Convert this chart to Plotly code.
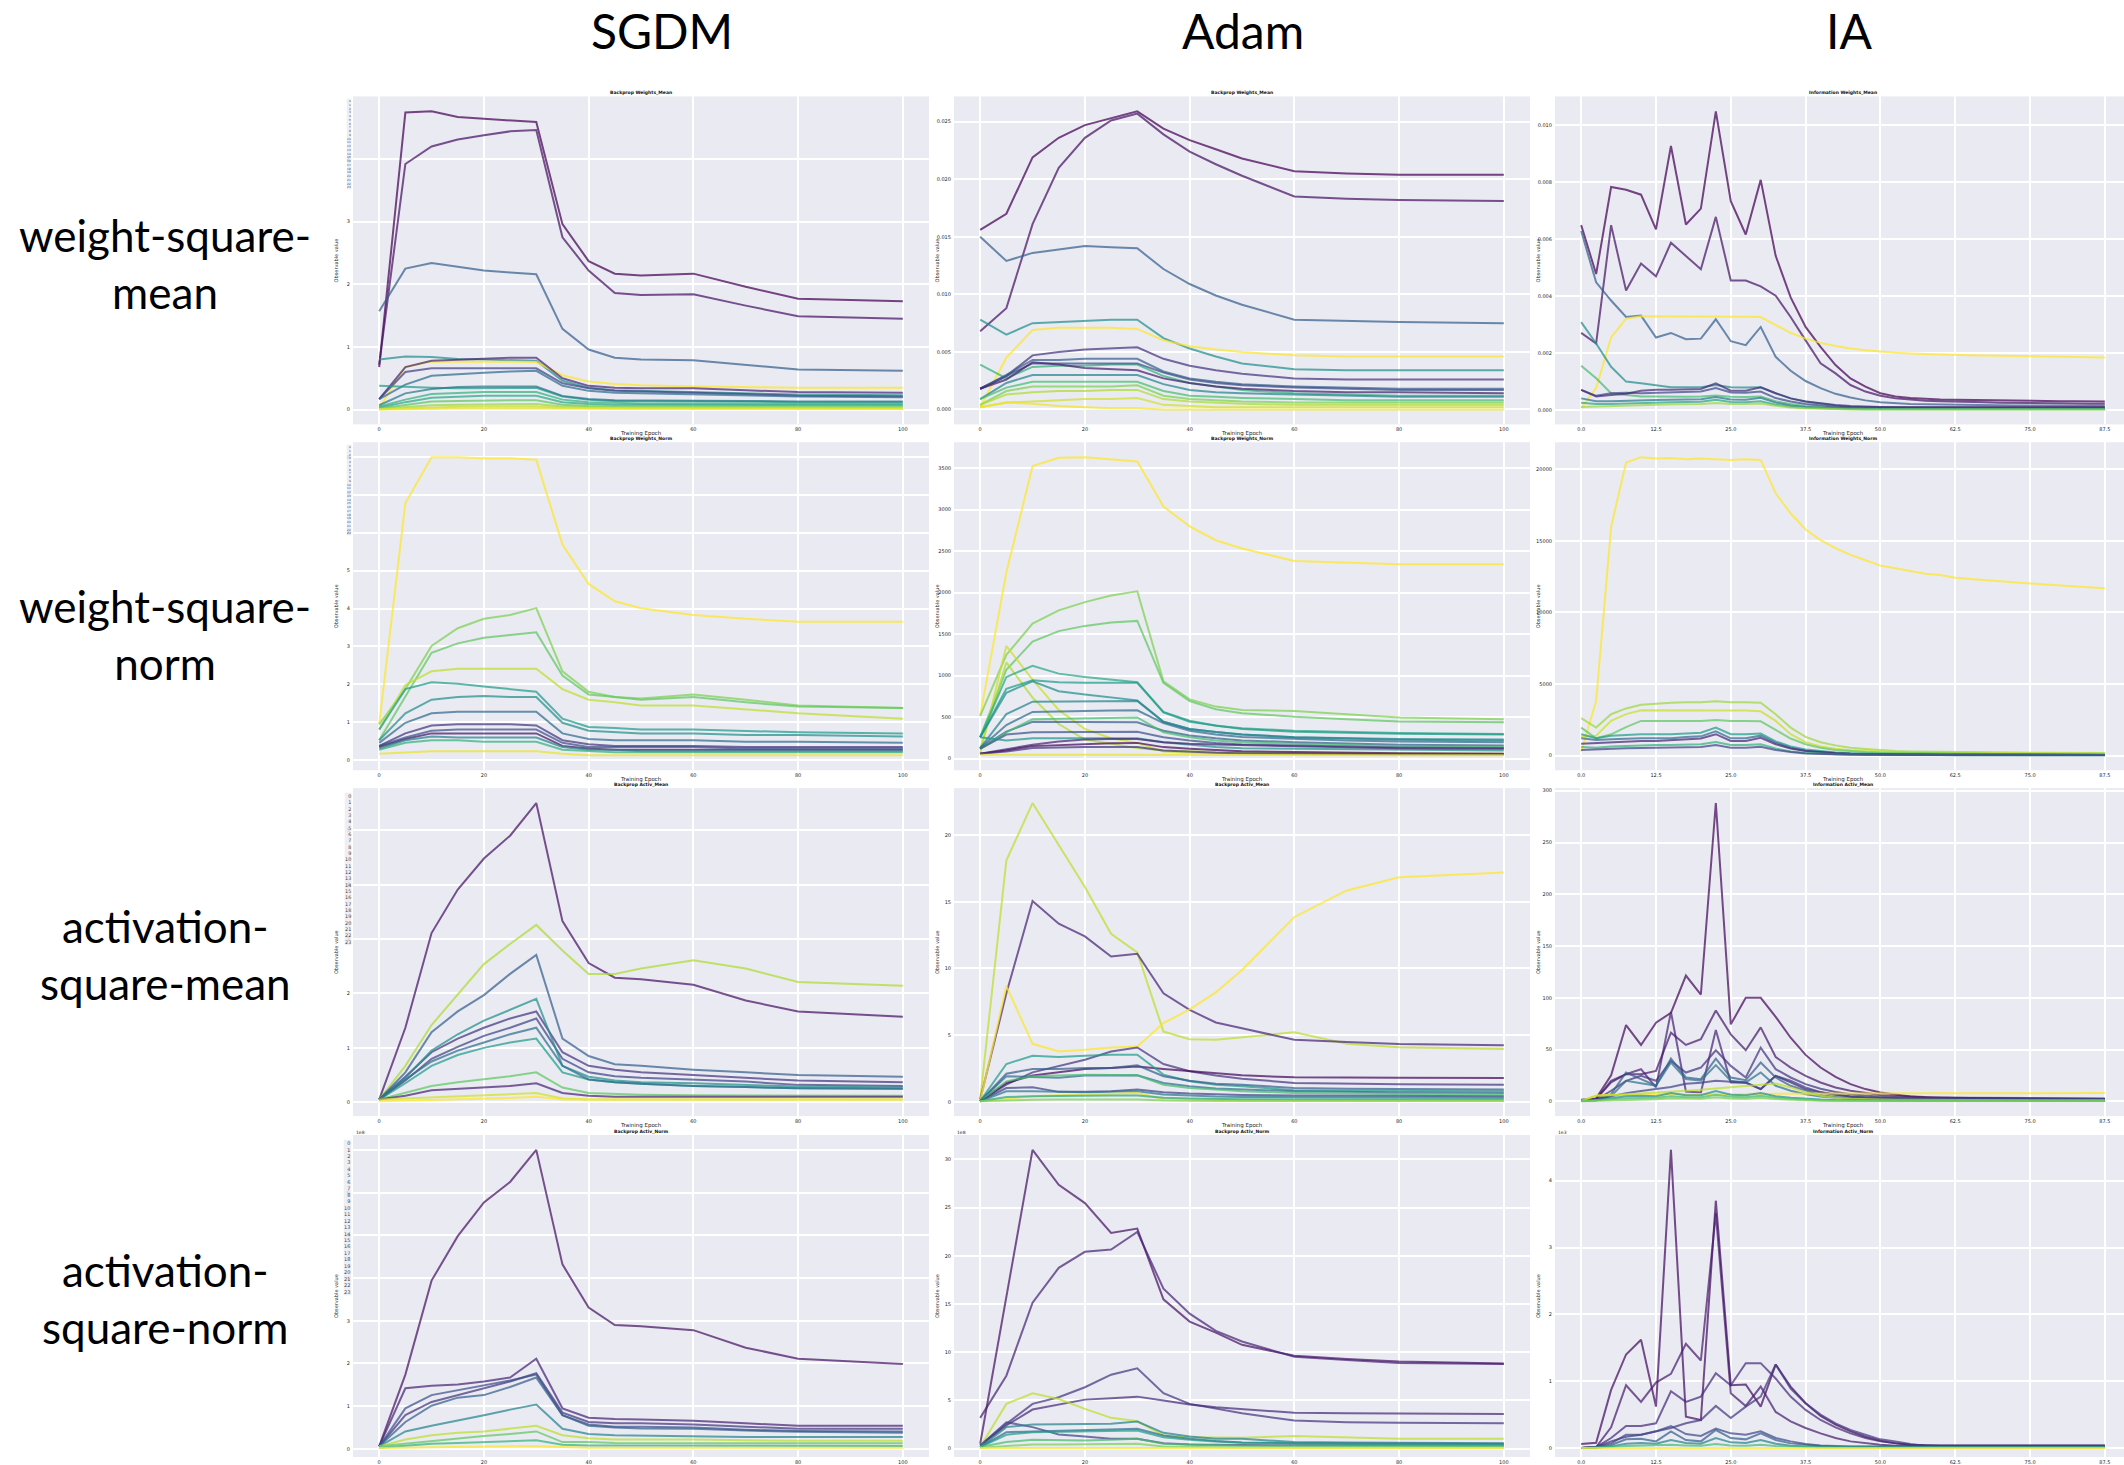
import plotly.graph_objects as go
from plotly.colors import sample_colorscale, unlabel_rgb

PAGE_W, PAGE_H = 2124, 1465

# ---- grid of small panels (pixel geometry of each plotting area) ----
COL_LEFT = [353, 954, 1555]
ROW_TOP = [96, 444, 792, 1141]
PANEL_W, PANEL_H = 576, 330

OPTIMIZERS = ["SGDM", "Adam", "IA"]
OPTIMIZER_X = [662, 1243, 1849]
OBSERVABLES = ["weight-square-<br>mean", "weight-square-<br>norm",
               "activation-<br>square-mean", "activation-<br>square-norm"]
OBSERVABLE_Y = [264, 637, 959, 1306]

PANEL_TITLES = [
    ["Backprop Weights_Mean", "Backprop Weights_Mean", "Information Weights_Mean"],
    ["Backprop Weights_Norm", "Backprop Weights_Norm", "Information Weights_Norm"],
    ["Backprop Activ_Mean", "Backprop Activ_Mean", "Information Activ_Mean"],
    ["Backprop Activ_Norm", "Backprop Activ_Norm", "Information Activ_Norm"],
]
OFFSET_TEXT = ["1e8", "1e8", "1e3"]

# layer-index key squeezed against the left edge of the SGDM panels
LAYER_IDS = ["0", "1", "2", "3", "4", "5", "6", "7", "8", "9", "10", "11",
             "12", "13", "14", "15", "16", "17", "18", "19", "20", "21", "22", "23"]
KEY_SPAN = [(98, 188), (446, 536), (796, 948), (1145, 1300)]

EPOCHS = [0, 5, 10, 15, 20, 25, 30, 35, 40, 45, 50, 60, 70, 80, 100]
EPOCH_TICKS = [0, 20, 40, 60, 80, 100]
IA_EPOCHS = [0.0, 2.5, 5.0, 7.5, 10.0, 12.5, 15.0, 17.5, 20.0, 22.5, 25.0, 27.5,
             30.0, 32.5, 35.0, 37.5, 40.0, 42.5, 45.0, 47.5, 50.0, 52.5, 55.0, 57.5,
             60.0, 62.5, 65.0, 67.5, 70.0, 72.5, 75.0, 77.5, 80.0, 82.5, 85.0, 87.5]
IA_TICKS = [0.0, 12.5, 25.0, 37.5, 50.0, 62.5, 75.0, 87.5]

# Each series: (position on the viridis scale, values per epoch)
SGDM_W_MEAN = [
    (0.00, [0.68, 4.74, 4.76, 4.67, 4.64, 4.62, 4.59, 2.96, 2.37, 2.17, 2.14, 2.17, 1.96, 1.77, 1.73]),
    (0.05, [0.72, 3.92, 4.20, 4.31, 4.38, 4.44, 4.46, 2.75, 2.22, 1.86, 1.83, 1.84, 1.66, 1.49, 1.45]),
    (0.30, [1.57, 2.25, 2.34, 2.28, 2.22, 2.19, 2.16, 1.29, 0.96, 0.83, 0.80, 0.79, 0.71, 0.64, 0.62]),
    (0.50, [0.80, 0.85, 0.84, 0.81, 0.80, 0.79, 0.78, 0.46, 0.35, 0.31, 0.30, 0.29, 0.26, 0.24, 0.23]),
    (1.00, [0.03, 0.68, 0.77, 0.77, 0.77, 0.77, 0.76, 0.55, 0.45, 0.41, 0.39, 0.37, 0.36, 0.35, 0.35]),
    (0.10, [0.17, 0.68, 0.78, 0.80, 0.82, 0.83, 0.83, 0.50, 0.38, 0.35, 0.34, 0.34, 0.31, 0.28, 0.27]),
    (0.20, [0.17, 0.60, 0.66, 0.66, 0.66, 0.67, 0.66, 0.42, 0.34, 0.30, 0.29, 0.28, 0.25, 0.22, 0.21]),
    (0.35, [0.17, 0.40, 0.54, 0.57, 0.59, 0.61, 0.62, 0.38, 0.30, 0.27, 0.26, 0.25, 0.23, 0.21, 0.20]),
    (0.55, [0.38, 0.36, 0.35, 0.34, 0.34, 0.35, 0.35, 0.21, 0.16, 0.14, 0.14, 0.14, 0.13, 0.12, 0.12]),
    (0.40, [0.07, 0.26, 0.33, 0.36, 0.37, 0.37, 0.37, 0.22, 0.17, 0.15, 0.15, 0.15, 0.14, 0.13, 0.13]),
    (0.65, [0.05, 0.16, 0.25, 0.27, 0.28, 0.28, 0.28, 0.16, 0.12, 0.11, 0.10, 0.10, 0.10, 0.09, 0.09]),
    (0.60, [0.03, 0.12, 0.19, 0.21, 0.22, 0.22, 0.22, 0.12, 0.09, 0.08, 0.08, 0.08, 0.07, 0.07, 0.07]),
    (0.75, [0.02, 0.08, 0.13, 0.14, 0.15, 0.15, 0.15, 0.08, 0.06, 0.05, 0.05, 0.05, 0.05, 0.05, 0.05]),
    (0.85, [0.01, 0.04, 0.07, 0.08, 0.08, 0.09, 0.09, 0.05, 0.04, 0.035, 0.035, 0.035, 0.03, 0.03, 0.03]),
    (0.92, [0.005, 0.02, 0.04, 0.045, 0.05, 0.05, 0.05, 0.03, 0.02, 0.02, 0.02, 0.02, 0.02, 0.02, 0.02]),
    (0.97, [0.003, 0.01, 0.02, 0.02, 0.02, 0.02, 0.02, 0.01, 0.01, 0.01, 0.01, 0.01, 0.01, 0.01, 0.01]),
]

ADAM_W_MEAN = [
    (0.00, [0.0156, 0.0170, 0.0219, 0.0236, 0.0247, 0.0253, 0.0259, 0.0244, 0.0234, 0.0226, 0.0218, 0.0207, 0.0205, 0.0204, 0.0204]),
    (0.05, [0.0068, 0.0088, 0.0161, 0.0210, 0.0236, 0.0251, 0.0257, 0.0239, 0.0224, 0.0213, 0.0203, 0.0185, 0.0183, 0.0182, 0.0181]),
    (0.30, [0.0150, 0.0129, 0.0136, 0.0139, 0.0142, 0.0141, 0.0140, 0.0122, 0.0109, 0.0099, 0.0091, 0.0078, 0.0077, 0.0076, 0.0075]),
    (0.50, [0.0078, 0.0065, 0.0075, 0.0076, 0.0077, 0.0078, 0.0078, 0.0062, 0.0053, 0.0046, 0.0040, 0.0035, 0.0034, 0.0034, 0.0034]),
    (1.00, [0.0002, 0.0045, 0.0069, 0.0071, 0.0071, 0.0071, 0.0070, 0.0060, 0.0055, 0.0052, 0.0050, 0.0047, 0.0046, 0.0046, 0.0046]),
    (0.15, [0.0018, 0.0029, 0.0047, 0.0050, 0.0052, 0.0053, 0.0054, 0.0044, 0.0038, 0.0034, 0.0031, 0.0027, 0.0026, 0.0026, 0.0026]),
    (0.65, [0.0039, 0.0027, 0.0037, 0.0038, 0.0038, 0.0039, 0.0039, 0.0029, 0.0023, 0.0020, 0.0017, 0.0014, 0.0013, 0.0012, 0.0012]),
    (0.30, [0.0018, 0.0030, 0.0043, 0.0043, 0.0044, 0.0044, 0.0044, 0.0033, 0.0027, 0.0024, 0.0022, 0.0020, 0.0019, 0.0018, 0.0018]),
    (0.25, [0.0018, 0.0029, 0.0040, 0.0040, 0.0040, 0.0040, 0.0040, 0.0032, 0.0026, 0.0023, 0.0021, 0.0019, 0.0018, 0.0017, 0.0017]),
    (0.08, [0.0018, 0.0026, 0.0041, 0.0039, 0.0036, 0.0035, 0.0034, 0.0027, 0.0023, 0.0020, 0.0018, 0.0016, 0.0015, 0.0015, 0.0014]),
    (0.45, [0.0009, 0.0023, 0.0030, 0.0030, 0.0030, 0.0030, 0.0030, 0.0022, 0.0017, 0.0015, 0.0014, 0.0013, 0.0012, 0.0011, 0.0011]),
    (0.70, [0.0009, 0.0019, 0.0024, 0.0024, 0.0024, 0.0024, 0.0024, 0.0016, 0.0012, 0.0011, 0.0010, 0.0009, 0.0008, 0.0008, 0.0008]),
    (0.80, [0.0004, 0.0016, 0.0020, 0.0020, 0.0020, 0.0020, 0.0021, 0.0012, 0.0009, 0.0008, 0.0007, 0.0006, 0.0006, 0.0006, 0.0006]),
    (0.88, [0.0004, 0.0013, 0.0015, 0.0016, 0.0016, 0.0017, 0.0017, 0.0009, 0.0007, 0.0006, 0.0005, 0.0004, 0.0004, 0.0004, 0.0004]),
    (0.93, [0.0002, 0.0006, 0.0007, 0.0008, 0.0009, 0.0009, 0.0010, 0.0004, 0.0003, 0.0002, 0.0002, 0.0002, 0.0002, 0.0002, 0.0002]),
    (0.98, [0.0002, 0.0006, 0.0005, 0.0003, 0.0002, 0.0001, 0.0001, 0.0000, 0.0000, 0.0000, 0.0000, 0.0000, 0.0000, 0.0000, 0.0000]),
]

IA_W_MEAN = [
    (0.00, [0.00649, 0.00477, 0.00783, 0.00773, 0.00756, 0.00634, 0.00927, 0.00651, 0.00707, 0.01049,
            0.00733, 0.00616, 0.00808, 0.00541, 0.00395, 0.00291, 0.00221, 0.00157, 0.0011, 0.00081,
            0.00058, 0.00047, 0.00041, 0.00038, 0.00036, 0.00035, 0.00034, 0.00033, 0.00032, 0.00031,
            0.00031, 0.0003, 0.0003, 0.0003, 0.00029, 0.00029]),
    (0.06, [0.0027, 0.00233, 0.00649, 0.00419, 0.00514, 0.00469, 0.00587, 0.00541, 0.00494, 0.00678,
            0.00454, 0.00454, 0.00434, 0.00401, 0.00326, 0.00244, 0.00163, 0.00128, 0.00087, 0.00064,
            0.00049, 0.0004, 0.00035, 0.00032, 0.0003, 0.00028, 0.00027, 0.00026, 0.00025, 0.00024,
            0.00023, 0.00023, 0.00022, 0.00022, 0.00021, 0.00021]),
    (0.30, [0.00628, 0.00448, 0.00384, 0.00326, 0.00331, 0.00254, 0.0027, 0.00248, 0.0025, 0.00318,
            0.00241, 0.00227, 0.00291, 0.00186, 0.00137, 0.00101, 0.00076, 0.00056, 0.00043, 0.00033,
            0.00026, 0.00022, 0.0002, 0.00019, 0.00018, 0.00017, 0.00016, 0.00016, 0.00015, 0.00015,
            0.00015, 0.00014, 0.00014, 0.00014, 0.00014, 0.00014]),
    (1.00, [0.00006, 0.00076, 0.00254, 0.0032, 0.00329, 0.00329, 0.00329, 0.00328, 0.00328, 0.00328,
            0.00327, 0.00327, 0.00326, 0.00297, 0.0027, 0.0025, 0.00235, 0.00224, 0.00215, 0.00209,
            0.00204, 0.002, 0.00198, 0.00196, 0.00194, 0.00193, 0.00192, 0.00191, 0.0019, 0.00189,
            0.00188, 0.00187, 0.00186, 0.00185, 0.00185, 0.00184]),
    (0.50, [0.00308, 0.00233, 0.00151, 0.00099, 0.00093, 0.00085, 0.00079, 0.00079, 0.00079, 0.00087,
            0.00079, 0.00078, 0.00079, 0.00058, 0.0004, 0.00029, 0.00021, 0.00015, 0.00011, 0.00009,
            0.00008, 0.00007, 0.00006, 0.00006, 0.00005, 0.00005, 0.00005, 0.00005, 0.00005, 0.00005,
            0.00005, 0.00005, 0.00005, 0.00005, 0.00005, 0.00005]),
    (0.70, [0.00155, 0.00111, 0.00058, 0.00052, 0.00047, 0.00047, 0.00046, 0.00046, 0.00047, 0.0005,
            0.00046, 0.00045, 0.00047, 0.0003, 0.0002, 0.00013, 0.0001, 0.00008, 0.00006, 0.00005,
            0.00004, 0.00004, 0.00004, 0.00004, 0.00004, 0.00004, 0.00004, 0.00004, 0.00004, 0.00004,
            0.00004, 0.00004, 0.00004, 0.00004, 0.00004, 0.00004]),
    (0.22, [0.0007, 0.00049, 0.00058, 0.0006, 0.00058, 0.00059, 0.0006, 0.00062, 0.00064, 0.00076,
            0.00061, 0.0006, 0.00064, 0.00041, 0.00029, 0.0002, 0.00015, 0.00011, 0.00009, 0.00008,
            0.00007, 0.00007, 0.00007, 0.00007, 0.00007, 0.00007, 0.00007, 0.00007, 0.00007, 0.00007,
            0.00007, 0.00007, 0.00007, 0.00007, 0.00007, 0.00007]),
    (0.12, [0.0007, 0.00047, 0.00052, 0.00056, 0.00067, 0.0007, 0.0007, 0.00071, 0.00073, 0.00093,
            0.00067, 0.00067, 0.00079, 0.00058, 0.0004, 0.00029, 0.00022, 0.00017, 0.00013, 0.00011,
            0.0001, 0.0001, 0.0001, 0.0001, 0.0001, 0.0001, 0.0001, 0.0001, 0.0001, 0.0001,
            0.0001, 0.0001, 0.0001, 0.0001, 0.0001, 0.0001]),
    (0.40, [0.0004, 0.0003, 0.0003, 0.00032, 0.00033, 0.00034, 0.00035, 0.00036, 0.00037, 0.00045,
            0.00036, 0.00035, 0.00042, 0.00025, 0.00015, 0.0001, 0.00007, 0.00005, 0.00004, 0.00003,
            0.00003, 0.00003, 0.00003, 0.00003, 0.00003, 0.00003, 0.00003, 0.00003, 0.00003, 0.00003,
            0.00003, 0.00003, 0.00003, 0.00003, 0.00003, 0.00003]),
    (0.60, [0.00025, 0.0002, 0.0002, 0.00022, 0.00024, 0.00025, 0.00026, 0.00027, 0.00028, 0.00035,
            0.00027, 0.00026, 0.0003, 0.00018, 0.00011, 0.00007, 0.00005, 0.00004, 0.00003, 0.00002,
            0.00002, 0.00002, 0.00002, 0.00002, 0.00002, 0.00002, 0.00002, 0.00002, 0.00002, 0.00002,
            0.00002, 0.00002, 0.00002, 0.00002, 0.00002, 0.00002]),
    (0.85, [0.0001, 0.00012, 0.00014, 0.00016, 0.00017, 0.00018, 0.00019, 0.0002, 0.0002, 0.00024,
            0.0002, 0.0002, 0.00022, 0.00014, 0.00008, 0.00005, 0.00003, 0.00002, 0.00001, 0.00001,
            0.00001, 0.00001, 0.00001, 0.00001, 0.00001, 0.00001, 0.00001, 0.00001, 0.00001, 0.00001,
            0.00001, 0.00001, 0.00001, 0.00001, 0.00001, 0.00001]),
]

SGDM_W_NORM = [
    (1.00, [0.94, 6.79, 8.00, 8.00, 7.97, 7.97, 7.93, 5.69, 4.65, 4.19, 4.01, 3.83, 3.73, 3.65, 3.65]),
    (0.80, [0.94, 1.87, 3.01, 3.48, 3.73, 3.83, 4.01, 2.34, 1.80, 1.66, 1.62, 1.73, 1.59, 1.44, 1.37]),
    (0.75, [0.52, 1.69, 2.83, 3.08, 3.23, 3.30, 3.37, 2.23, 1.73, 1.66, 1.59, 1.66, 1.52, 1.41, 1.37]),
    (0.90, [0.80, 1.98, 2.34, 2.41, 2.41, 2.41, 2.41, 1.87, 1.59, 1.52, 1.44, 1.44, 1.34, 1.23, 1.09]),
    (0.55, [0.80, 1.87, 2.05, 2.01, 1.94, 1.87, 1.80, 1.09, 0.87, 0.84, 0.80, 0.80, 0.77, 0.73, 0.70]),
    (0.50, [0.52, 1.23, 1.59, 1.66, 1.69, 1.66, 1.66, 0.98, 0.77, 0.73, 0.70, 0.70, 0.66, 0.66, 0.62]),
    (0.35, [0.45, 0.98, 1.23, 1.27, 1.27, 1.27, 1.27, 0.70, 0.55, 0.52, 0.52, 0.52, 0.48, 0.48, 0.45]),
    (0.15, [0.37, 0.70, 0.91, 0.94, 0.94, 0.94, 0.91, 0.52, 0.41, 0.37, 0.37, 0.37, 0.34, 0.34, 0.34]),
    (0.05, [0.34, 0.55, 0.70, 0.70, 0.70, 0.70, 0.70, 0.37, 0.30, 0.27, 0.27, 0.27, 0.27, 0.27, 0.27]),
    (0.25, [0.37, 0.59, 0.77, 0.80, 0.80, 0.80, 0.80, 0.45, 0.34, 0.34, 0.34, 0.34, 0.30, 0.30, 0.30]),
    (0.45, [0.30, 0.52, 0.62, 0.59, 0.59, 0.59, 0.59, 0.34, 0.27, 0.27, 0.23, 0.23, 0.23, 0.23, 0.23]),
    (0.65, [0.27, 0.45, 0.52, 0.52, 0.48, 0.48, 0.48, 0.27, 0.23, 0.20, 0.20, 0.20, 0.20, 0.20, 0.20]),
    (0.97, [0.16, 0.20, 0.23, 0.23, 0.23, 0.23, 0.23, 0.16, 0.12, 0.12, 0.12, 0.12, 0.12, 0.12, 0.12]),
]

ADAM_W_NORM = [
    (1.00, [516, 2242, 3524, 3623, 3631, 3603, 3579, 3036, 2798, 2631, 2532, 2381, 2361, 2341, 2341]),
    (0.80, [516, 1250, 1627, 1786, 1885, 1964, 2016, 932, 714, 627, 587, 575, 536, 496, 476]),
    (0.75, [258, 1071, 1409, 1536, 1599, 1639, 1659, 913, 694, 595, 548, 504, 476, 448, 437]),
    (0.92, [60, 1357, 952, 587, 357, 246, 190, 87, 71, 65, 60, 56, 52, 50, 48]),
    (0.88, [119, 1159, 734, 417, 230, 179, 127, 99, 87, 80, 75, 70, 66, 62, 60]),
    (0.60, [258, 984, 1119, 1024, 984, 952, 921, 563, 456, 397, 365, 337, 325, 310, 298]),
    (0.55, [258, 841, 944, 921, 913, 913, 913, 556, 444, 400, 357, 325, 310, 300, 290]),
    (0.50, [258, 794, 932, 813, 774, 734, 702, 444, 357, 320, 290, 258, 245, 238, 230]),
    (0.45, [127, 536, 686, 690, 694, 694, 694, 444, 357, 320, 290, 258, 240, 228, 218]),
    (0.35, [127, 405, 563, 570, 579, 581, 583, 428, 337, 290, 260, 238, 220, 208, 198]),
    (0.30, [127, 325, 444, 444, 444, 440, 437, 337, 278, 245, 220, 198, 180, 168, 159]),
    (0.70, [119, 317, 476, 480, 484, 490, 496, 317, 258, 220, 198, 179, 160, 148, 139]),
    (0.25, [119, 290, 317, 320, 325, 325, 325, 258, 218, 190, 170, 159, 145, 135, 127]),
    (0.52, [258, 218, 246, 246, 246, 246, 246, 198, 167, 140, 125, 119, 110, 104, 99]),
    (0.10, [60, 111, 167, 206, 230, 238, 238, 198, 179, 170, 163, 151, 135, 125, 119]),
    (0.02, [60, 99, 151, 165, 179, 185, 190, 139, 119, 100, 90, 79, 70, 65, 60]),
    (0.15, [60, 87, 127, 135, 139, 139, 139, 99, 80, 70, 65, 60, 56, 54, 52]),
    (0.97, [48, 50, 52, 50, 48, 46, 45, 43, 42, 41, 41, 40, 40, 40, 40]),
]

IA_W_NORM = [
    (1.00, [280, 3832, 15981, 20467, 20841, 20750, 20790, 20700, 20750, 20700,
            20650, 20700, 20650, 18318, 16916, 15794, 15047, 14486, 14019, 13645,
            13271, 13084, 12897, 12710, 12617, 12430, 12340, 12250, 12170, 12100,
            12030, 11960, 11890, 11820, 11750, 11682]),
    (0.85, [2617, 1963, 2897, 3300, 3551, 3650, 3700, 3738, 3738, 3800,
            3738, 3738, 3700, 2897, 1963, 1308, 935, 720, 561, 470,
            374, 330, 300, 280, 265, 250, 240, 230, 220, 215,
            210, 205, 200, 195, 190, 187]),
    (0.92, [1308, 1400, 2430, 2900, 3178, 3178, 3178, 3178, 3178, 3200,
            3178, 3150, 3100, 2430, 1500, 950, 650, 480, 380, 320,
            280, 250, 230, 210, 200, 190, 180, 170, 165, 160,
            155, 150, 145, 140, 135, 130]),
    (0.75, [1963, 1215, 1495, 2000, 2430, 2430, 2430, 2430, 2430, 2500,
            2430, 2430, 2400, 1800, 1200, 800, 550, 400, 320, 260,
            220, 200, 180, 165, 150, 140, 135, 130, 125, 120,
            115, 110, 105, 100, 100, 100]),
    (0.55, [1495, 1215, 1400, 1450, 1495, 1495, 1495, 1550, 1600, 1963,
            1495, 1495, 1550, 1000, 650, 430, 300, 220, 170, 140,
            120, 110, 100, 95, 90, 85, 80, 80, 75, 75,
            70, 70, 70, 65, 65, 65]),
    (0.35, [1215, 1100, 1150, 1200, 1215, 1215, 1215, 1300, 1350, 1700,
            1215, 1215, 1400, 900, 550, 350, 250, 180, 140, 110,
            95, 85, 80, 75, 70, 65, 60, 60, 55, 55,
            55, 50, 50, 50, 50, 50]),
    (0.10, [841, 900, 950, 1000, 1028, 1028, 1100, 1150, 1200, 1500,
            1028, 1028, 1250, 800, 500, 330, 230, 170, 130, 110,
            95, 85, 80, 75, 70, 65, 60, 60, 55, 55,
            55, 50, 50, 50, 50, 50]),
    (0.65, [600, 550, 650, 700, 750, 750, 750, 780, 800, 950,
            750, 740, 800, 500, 300, 200, 140, 100, 80, 65,
            55, 50, 45, 42, 40, 38, 36, 35, 34, 33,
            32, 31, 30, 30, 30, 30]),
    (0.20, [400, 450, 500, 520, 540, 550, 560, 580, 600, 750,
            560, 550, 620, 400, 250, 160, 110, 80, 60, 50,
            45, 40, 38, 36, 34, 32, 30, 30, 28, 28,
            27, 26, 26, 25, 25, 25]),
]

SGDM_A_MEAN = [
    (0.05, [0.05, 1.37, 3.11, 3.91, 4.48, 4.90, 5.50, 3.33, 2.56, 2.29, 2.26, 2.16, 1.87, 1.67, 1.57]),
    (0.88, [0.05, 0.67, 1.42, 1.97, 2.54, 2.91, 3.26, 2.79, 2.36, 2.36, 2.46, 2.61, 2.46, 2.21, 2.14]),
    (0.30, [0.05, 0.55, 1.29, 1.67, 1.97, 2.36, 2.71, 1.17, 0.85, 0.70, 0.67, 0.60, 0.55, 0.50, 0.47]),
    (0.15, [0.05, 0.47, 0.92, 1.17, 1.37, 1.54, 1.67, 0.92, 0.67, 0.60, 0.55, 0.50, 0.45, 0.40, 0.37]),
    (0.20, [0.05, 0.40, 0.80, 1.02, 1.22, 1.37, 1.54, 0.80, 0.55, 0.48, 0.45, 0.42, 0.38, 0.32, 0.30]),
    (0.50, [0.05, 0.45, 0.95, 1.25, 1.50, 1.70, 1.90, 0.67, 0.47, 0.40, 0.37, 0.35, 0.32, 0.29, 0.27]),
    (0.55, [0.05, 0.35, 0.67, 0.87, 1.00, 1.10, 1.17, 0.55, 0.42, 0.37, 0.34, 0.30, 0.28, 0.26, 0.25]),
    (0.35, [0.05, 0.42, 0.75, 0.95, 1.10, 1.25, 1.37, 0.67, 0.42, 0.37, 0.34, 0.30, 0.28, 0.26, 0.25]),
    (0.75, [0.05, 0.17, 0.30, 0.37, 0.42, 0.48, 0.55, 0.27, 0.17, 0.15, 0.14, 0.13, 0.13, 0.12, 0.12]),
    (0.10, [0.05, 0.12, 0.22, 0.25, 0.27, 0.30, 0.35, 0.17, 0.12, 0.10, 0.10, 0.10, 0.10, 0.10, 0.10]),
    (0.93, [0.05, 0.07, 0.10, 0.12, 0.14, 0.15, 0.17, 0.07, 0.05, 0.05, 0.05, 0.05, 0.05, 0.05, 0.05]),
    (1.00, [0.02, 0.03, 0.05, 0.06, 0.07, 0.08, 0.10, 0.05, 0.05, 0.05, 0.05, 0.05, 0.05, 0.05, 0.05]),
]

ADAM_A_MEAN = [
    (0.90, [0.17, 18.1, 22.4, 19.2, 16.1, 12.6, 11.2, 5.27, 4.70, 4.65, 4.83, 5.22, 4.35, 4.10, 3.96]),
    (0.10, [0.17, 8.14, 15.05, 13.36, 12.4, 10.9, 11.1, 8.14, 6.89, 5.95, 5.52, 4.65, 4.48, 4.33, 4.25]),
    (1.00, [0.05, 8.68, 4.35, 3.78, 3.91, 4.08, 4.15, 5.90, 6.94, 8.21, 9.88, 13.86, 15.85, 16.84, 17.19]),
    (0.15, [0.05, 1.29, 2.21, 2.66, 3.16, 3.78, 4.08, 2.84, 2.29, 1.97, 1.74, 1.42, 1.35, 1.32, 1.29]),
    (0.02, [0.05, 1.42, 1.97, 2.21, 2.46, 2.54, 2.66, 2.46, 2.29, 2.11, 1.99, 1.84, 1.80, 1.80, 1.79]),
    (0.55, [0.05, 2.84, 3.46, 3.36, 3.46, 3.53, 3.53, 2.04, 1.54, 1.29, 1.17, 0.87, 0.84, 0.82, 0.80]),
    (0.30, [0.05, 2.11, 2.46, 2.46, 2.54, 2.54, 2.74, 1.92, 1.59, 1.35, 1.29, 1.04, 0.98, 0.95, 0.92]),
    (0.35, [0.05, 1.92, 1.87, 1.80, 1.97, 1.97, 1.99, 1.42, 1.17, 1.00, 0.92, 0.80, 0.75, 0.70, 0.67]),
    (0.70, [0.05, 1.54, 1.92, 1.97, 2.04, 2.02, 1.99, 1.29, 1.04, 0.92, 0.80, 0.67, 0.62, 0.58, 0.55]),
    (0.20, [0.05, 1.04, 1.09, 0.75, 0.75, 0.80, 0.92, 0.72, 0.62, 0.55, 0.52, 0.47, 0.45, 0.43, 0.42]),
    (0.40, [0.05, 0.80, 0.80, 0.75, 0.72, 0.75, 0.80, 0.55, 0.45, 0.40, 0.37, 0.35, 0.32, 0.31, 0.30]),
    (0.97, [0.05, 0.22, 0.42, 0.50, 0.55, 0.62, 0.67, 0.22, 0.17, 0.12, 0.12, 0.10, 0.10, 0.10, 0.10]),
    (0.60, [0.05, 0.37, 0.42, 0.45, 0.45, 0.47, 0.47, 0.30, 0.25, 0.22, 0.20, 0.20, 0.20, 0.20, 0.20]),
    (0.80, [0.05, 0.12, 0.15, 0.17, 0.17, 0.17, 0.17, 0.10, 0.07, 0.07, 0.07, 0.07, 0.07, 0.07, 0.07]),
]

IA_A_MEAN = [
    (0.02, [1.6, 2.9, 25.3, 73.7, 54.5, 76.0, 85.6, 121.5, 103.2, 288.1,
            74.4, 100.0, 100.0, 81.7, 61.5, 44.9, 32.7, 23.7, 16.7, 11.9,
            8.7, 6.4, 4.8, 3.8, 3.5, 3.2, 3.0, 2.9, 2.8, 2.7,
            2.6, 2.5, 2.4, 2.4, 2.3, 2.2]),
    (0.10, [0.6, 2.2, 19.9, 26.3, 31.1, 13.5, 86.5, 9.6, 8.7, 68.9,
            18.3, 18.3, 11.9, 24.7, 18.3, 11.9, 8.7, 6.4, 4.8, 3.8,
            3.2, 2.9, 2.6, 2.4, 2.2, 2.2, 2.1, 2.1, 2.0, 2.0,
            2.0, 1.9, 1.9, 1.9, 1.9, 1.9]),
    (0.07, [0.6, 2.2, 18.3, 26.3, 26.3, 29.5, 66.3, 54.5, 60.0, 87.8,
            64.7, 49.4, 71.5, 42.9, 32.7, 24.7, 18.3, 13.5, 10.3, 8.0,
            6.1, 5.1, 4.5, 4.2, 3.8, 3.5, 3.4, 3.3, 3.2, 3.1,
            3.0, 3.0, 2.9, 2.9, 2.9, 2.9]),
    (0.15, [0.6, 1.6, 10.3, 19.9, 24.7, 19.9, 39.1, 27.9, 32.7, 49.4,
            34.3, 23.1, 51.9, 31.1, 23.1, 16.7, 12.2, 9.0, 7.0, 5.4,
            4.5, 3.8, 3.5, 3.2, 3.0, 2.8, 2.7, 2.6, 2.5, 2.4,
            2.4, 2.3, 2.3, 2.2, 2.2, 2.2]),
    (0.30, [0.6, 1.0, 7.0, 27.9, 21.5, 15.1, 41.3, 23.1, 21.5, 41.3,
            23.1, 20.5, 37.5, 23.1, 15.1, 10.3, 6.1, 4.2, 3.2, 2.6,
            2.2, 2.0, 1.8, 1.7, 1.6, 1.6, 1.5, 1.5, 1.5, 1.5,
            1.5, 1.5, 1.5, 1.5, 1.5, 1.5]),
    (0.38, [0.6, 1.0, 5.1, 19.9, 17.6, 15.1, 37.5, 21.5, 19.9, 35.0,
            19.9, 18.3, 27.9, 15.1, 10.3, 7.0, 4.8, 3.5, 2.6, 2.1,
            1.8, 1.6, 1.5, 1.4, 1.3, 1.3, 1.2, 1.2, 1.2, 1.2,
            1.2, 1.2, 1.2, 1.2, 1.2, 1.2]),
    (0.20, [0.6, 2.0, 5.0, 8.0, 10.0, 12.0, 14.0, 17.0, 18.0, 20.0,
            19.0, 18.0, 12.0, 24.7, 19.9, 13.5, 9.0, 6.4, 4.8, 3.8,
            3.2, 2.9, 2.7, 2.5, 2.4, 2.3, 2.2, 2.2, 2.1, 2.1,
            2.1, 2.0, 2.0, 2.0, 2.0, 2.0]),
    (1.00, [0.3, 5.8, 6.4, 6.7, 6.7, 6.9, 7.0, 7.0, 7.1, 7.2,
            7.2, 7.3, 7.3, 7.4, 7.5, 7.5, 7.6, 7.6, 7.7, 7.7,
            7.8, 7.8, 7.8, 7.9, 7.9, 7.9, 7.9, 8.0, 8.0, 8.0,
            8.0, 8.0, 8.0, 8.0, 8.0, 8.0]),
    (0.90, [0.6, 5.4, 6.0, 7.0, 7.7, 8.7, 9.3, 10.3, 11.2, 12.5,
            13.5, 15.1, 16.7, 17.3, 13.5, 8.7, 5.4, 3.5, 2.5, 2.0,
            1.8, 1.6, 1.5, 1.4, 1.3, 1.3, 1.2, 1.2, 1.2, 1.1,
            1.1, 1.1, 1.1, 1.0, 1.0, 1.0]),
    (0.50, [0.3, 1.0, 3.0, 5.0, 5.5, 5.0, 8.0, 6.0, 6.0, 10.0,
            6.5, 6.0, 8.0, 5.0, 3.5, 2.5, 1.8, 1.3, 1.0, 0.8,
            0.7, 0.6, 0.6, 0.5, 0.5, 0.5, 0.5, 0.5, 0.5, 0.5,
            0.5, 0.5, 0.5, 0.5, 0.5, 0.5]),
    (0.70, [0.3, 0.8, 2.0, 3.0, 3.5, 3.5, 5.0, 4.0, 4.0, 6.5,
            4.5, 4.0, 5.5, 3.5, 2.5, 1.7, 1.2, 0.9, 0.7, 0.6,
            0.5, 0.5, 0.4, 0.4, 0.4, 0.4, 0.4, 0.4, 0.4, 0.4,
            0.4, 0.4, 0.4, 0.4, 0.4, 0.4]),
    (0.80, [0.2, 0.5, 1.2, 1.8, 2.0, 2.0, 3.0, 2.5, 2.5, 4.0,
            2.8, 2.5, 3.5, 2.2, 1.5, 1.0, 0.7, 0.5, 0.4, 0.3,
            0.3, 0.3, 0.3, 0.3, 0.3, 0.3, 0.3, 0.3, 0.3, 0.3,
            0.3, 0.3, 0.3, 0.3, 0.3, 0.3]),
]

SGDM_A_NORM = [
    (0.05, [0.06, 1.74, 3.94, 4.98, 5.77, 6.25, 7.00, 4.32, 3.31, 2.90, 2.87, 2.78, 2.37, 2.11, 1.99]),
    (0.10, [0.06, 1.42, 1.48, 1.51, 1.58, 1.67, 2.11, 0.95, 0.73, 0.70, 0.69, 0.66, 0.60, 0.54, 0.54]),
    (0.15, [0.06, 0.79, 1.10, 1.26, 1.42, 1.58, 1.77, 0.85, 0.63, 0.60, 0.60, 0.57, 0.52, 0.47, 0.47]),
    (0.25, [0.06, 0.95, 1.26, 1.37, 1.48, 1.60, 1.74, 0.79, 0.57, 0.52, 0.52, 0.50, 0.45, 0.42, 0.41]),
    (0.30, [0.06, 0.63, 1.01, 1.20, 1.26, 1.45, 1.67, 0.79, 0.54, 0.50, 0.48, 0.47, 0.43, 0.40, 0.38]),
    (0.45, [0.06, 0.41, 0.54, 0.66, 0.79, 0.92, 1.04, 0.47, 0.35, 0.32, 0.31, 0.30, 0.28, 0.28, 0.28]),
    (0.90, [0.06, 0.22, 0.32, 0.38, 0.41, 0.48, 0.54, 0.32, 0.25, 0.22, 0.22, 0.22, 0.20, 0.19, 0.19]),
    (0.75, [0.06, 0.12, 0.19, 0.25, 0.30, 0.35, 0.41, 0.16, 0.16, 0.14, 0.14, 0.14, 0.13, 0.13, 0.13]),
    (0.65, [0.03, 0.08, 0.12, 0.14, 0.16, 0.18, 0.20, 0.10, 0.08, 0.08, 0.08, 0.08, 0.07, 0.07, 0.07]),
    (1.00, [0.02, 0.03, 0.04, 0.05, 0.05, 0.06, 0.06, 0.04, 0.03, 0.03, 0.03, 0.03, 0.03, 0.03, 0.03]),
]

ADAM_A_NORM = [
    (0.05, [0.52, 15.83, 30.97, 27.36, 25.46, 22.37, 22.81, 15.48, 13.18, 12.04, 10.77, 9.63, 9.29, 9.05, 8.84]),
    (0.10, [3.20, 7.57, 15.14, 18.75, 20.41, 20.65, 22.47, 16.59, 14.00, 12.22, 11.11, 9.53, 9.19, 8.88, 8.77]),
    (0.15, [0.34, 2.58, 4.65, 5.33, 6.37, 7.67, 8.33, 5.75, 4.65, 4.13, 3.68, 2.92, 2.75, 2.68, 2.65]),
    (0.12, [0.34, 2.41, 4.06, 4.58, 5.09, 5.23, 5.40, 4.99, 4.58, 4.30, 4.13, 3.72, 3.68, 3.65, 3.61]),
    (0.90, [0.17, 4.65, 5.75, 5.16, 4.13, 3.20, 2.86, 1.38, 1.20, 1.14, 1.14, 1.31, 1.14, 1.03, 1.03]),
    (0.20, [0.34, 2.75, 2.24, 1.48, 1.27, 1.03, 1.03, 0.58, 0.45, 0.40, 0.38, 0.35, 0.33, 0.32, 0.34]),
    (0.45, [0.17, 2.24, 2.51, 2.51, 2.58, 2.58, 2.82, 1.65, 1.27, 1.03, 1.03, 0.69, 0.65, 0.62, 0.58]),
    (0.35, [0.17, 1.72, 1.79, 1.85, 1.89, 1.95, 2.06, 1.38, 1.03, 0.80, 0.65, 0.58, 0.55, 0.52, 0.52]),
    (0.55, [0.17, 1.45, 1.72, 1.75, 1.79, 1.85, 1.89, 1.20, 0.93, 0.75, 0.62, 0.58, 0.50, 0.45, 0.45]),
    (0.70, [0.17, 0.69, 0.93, 0.90, 0.86, 0.93, 1.03, 0.52, 0.40, 0.35, 0.31, 0.30, 0.28, 0.28, 0.28]),
    (0.80, [0.10, 0.30, 0.45, 0.45, 0.45, 0.48, 0.52, 0.24, 0.17, 0.15, 0.14, 0.14, 0.14, 0.14, 0.14]),
    (1.00, [0.07, 0.07, 0.07, 0.07, 0.07, 0.07, 0.07, 0.07, 0.07, 0.07, 0.07, 0.07, 0.07, 0.07, 0.07]),
]

IA_A_NORM = [
    (0.03, [0.06, 0.08, 0.87, 1.40, 1.62, 0.62, 4.46, 0.47, 0.42, 3.70,
            0.94, 0.95, 0.62, 1.25, 0.92, 0.67, 0.48, 0.35, 0.25, 0.17,
            0.11, 0.07, 0.05, 0.04, 0.035, 0.035, 0.035, 0.035, 0.035, 0.035,
            0.035, 0.035, 0.035, 0.035, 0.035, 0.035]),
    (0.08, [0.0, 0.015, 0.31, 0.94, 0.69, 0.98, 1.11, 1.56, 1.31, 3.51,
            0.82, 0.63, 0.92, 0.54, 0.40, 0.30, 0.22, 0.15, 0.10, 0.07,
            0.05, 0.035, 0.035, 0.035, 0.035, 0.035, 0.035, 0.035, 0.035, 0.035,
            0.035, 0.035, 0.035, 0.035, 0.035, 0.035]),
    (0.12, [0.0, 0.015, 0.15, 0.33, 0.33, 0.37, 0.85, 0.69, 0.77, 1.12,
            0.94, 1.27, 1.27, 1.04, 0.77, 0.57, 0.42, 0.31, 0.22, 0.15,
            0.10, 0.07, 0.05, 0.035, 0.035, 0.035, 0.035, 0.035, 0.035, 0.035,
            0.035, 0.035, 0.035, 0.035, 0.035, 0.035]),
    (0.16, [0.0, 0.015, 0.10, 0.17, 0.20, 0.25, 0.30, 0.37, 0.42, 0.63,
            0.45, 0.62, 0.77, 1.25, 0.89, 0.67, 0.50, 0.37, 0.27, 0.20,
            0.13, 0.10, 0.06, 0.035, 0.035, 0.035, 0.035, 0.035, 0.035, 0.035,
            0.035, 0.035, 0.035, 0.035, 0.035, 0.035]),
    (0.22, [0.0, 0.015, 0.07, 0.20, 0.20, 0.25, 0.33, 0.21, 0.18, 0.29,
            0.22, 0.20, 0.25, 0.15, 0.10, 0.06, 0.04, 0.03, 0.025, 0.025,
            0.025, 0.025, 0.025, 0.025, 0.025, 0.025, 0.025, 0.025, 0.025, 0.025,
            0.025, 0.025, 0.025, 0.025, 0.025, 0.025]),
    (0.30, [0.0, 0.01, 0.045, 0.13, 0.14, 0.10, 0.25, 0.12, 0.10, 0.27,
            0.15, 0.13, 0.22, 0.12, 0.07, 0.045, 0.03, 0.02, 0.02, 0.02,
            0.02, 0.02, 0.02, 0.02, 0.02, 0.02, 0.02, 0.02, 0.02, 0.02,
            0.02, 0.02, 0.02, 0.02, 0.02, 0.02]),
    (0.45, [0.0, 0.005, 0.025, 0.065, 0.075, 0.065, 0.12, 0.075, 0.065, 0.15,
            0.085, 0.075, 0.12, 0.065, 0.035, 0.02, 0.015, 0.015, 0.015, 0.015,
            0.015, 0.015, 0.015, 0.015, 0.015, 0.015, 0.015, 0.015, 0.015, 0.015,
            0.015, 0.015, 0.015, 0.015, 0.015, 0.015]),
    (0.70, [0.0, 0.005, 0.015, 0.03, 0.035, 0.035, 0.05, 0.04, 0.035, 0.06,
            0.04, 0.035, 0.05, 0.03, 0.02, 0.01, 0.01, 0.01, 0.01, 0.01,
            0.01, 0.01, 0.01, 0.01, 0.01, 0.01, 0.01, 0.01, 0.01, 0.01,
            0.01, 0.01, 0.01, 0.01, 0.01, 0.01]),
    (1.00, [0.0, 0.0, 0.0, 0.0, 0.0, 0.0, 0.0, 0.0, 0.0, 0.0,
            0.0, 0.0, 0.0, 0.0, 0.0, 0.0, 0.0, 0.0, 0.0, 0.0,
            0.0, 0.0, 0.0, 0.0, 0.0, 0.0, 0.0, 0.0, 0.0, 0.0,
            0.0, 0.0, 0.0, 0.0, 0.0, 0.0]),
]

# rows: observables, columns: optimizers; (series, y grid step, y tick format)
PANELS = [
    [(SGDM_W_MEAN, 1, "d"), (ADAM_W_MEAN, 0.005, ".3f"), (IA_W_MEAN, 0.002, ".3f")],
    [(SGDM_W_NORM, 1, "d"), (ADAM_W_NORM, 500, "d"), (IA_W_NORM, 5000, "d")],
    [(SGDM_A_MEAN, 1, "d"), (ADAM_A_MEAN, 5, "d"), (IA_A_MEAN, 50, "d")],
    [(SGDM_A_NORM, 1, "d"), (ADAM_A_NORM, 5, "d"), (IA_A_NORM, 1, "d")],
]

BG = "#EAEAF2"
TEXT = "#262626"
TINY = dict(family="DejaVu Sans", size=5, color=TEXT)


def line_colour(t, alpha=0.72):
    r, g, b = unlabel_rgb(sample_colorscale("Viridis", [t])[0])
    return f"rgba({r:.0f},{g:.0f},{b:.0f},{alpha})"


def padded(lo, hi, frac=0.05):
    span = hi - lo
    return lo - frac * span, hi + frac * span


def px_x(p):
    return p / PAGE_W


def px_y(p):
    return 1 - p / PAGE_H


fig = go.Figure()
annotations = []
layout_axes = {}

for r, row in enumerate(PANELS):
    for c, (series, ystep, yfmt) in enumerate(row):
        n = r * 3 + c + 1
        xa = "x" if n == 1 else f"x{n}"
        ya = "y" if n == 1 else f"y{n}"
        xs = IA_EPOCHS if c == 2 else EPOCHS

        for t, vals in series:
            fig.add_trace(go.Scatter(
                x=xs, y=vals, mode="lines", xaxis=xa, yaxis=ya,
                line=dict(color=line_colour(t), width=2),
                showlegend=False, hoverinfo="skip"))

        x0, y0 = COL_LEFT[c], ROW_TOP[r]
        x1, y1 = x0 + PANEL_W, y0 + PANEL_H
        vx1, vy1 = min(x1, PAGE_W), min(y1, PAGE_H)

        # matplotlib-style 5 % padding, clipped where the panel runs off the page
        xlo, xhi = padded(xs[0], xs[-1])
        xhi_vis = xlo + (xhi - xlo) * (vx1 - x0) / (x1 - x0)
        allv = [v for _, vals in series for v in vals]
        ylo, yhi = padded(min(allv), max(allv))
        ylo_vis = yhi - (yhi - ylo) * (vy1 - y0) / (y1 - y0)

        if c == 2:
            tickvals = IA_TICKS
            ticktext = [f"{v:.1f}" for v in IA_TICKS]
        else:
            tickvals = EPOCH_TICKS
            ticktext = [str(v) for v in EPOCH_TICKS]

        xkey = "xaxis" if n == 1 else f"xaxis{n}"
        ykey = "yaxis" if n == 1 else f"yaxis{n}"
        layout_axes[xkey] = dict(
            domain=[px_x(x0), px_x(vx1)], anchor=ya, range=[xlo, xhi_vis],
            tickvals=tickvals, ticktext=ticktext, tickfont=TINY,
            showgrid=True, gridcolor="white", gridwidth=1.6, zeroline=False,
            showline=False, ticks="", ticklabelstandoff=1)
        layout_axes[ykey] = dict(
            domain=[px_y(vy1), px_y(y0)], anchor=xa, range=[ylo_vis, yhi],
            dtick=ystep, tick0=0, tickformat=yfmt, tickfont=TINY,
            showgrid=True, gridcolor="white", gridwidth=1.6, zeroline=False,
            showline=False, ticks="", ticklabelstandoff=2)

        cx = x0 + PANEL_W / 2
        annotations.append(dict(
            text=f"<b>{PANEL_TITLES[r][c]}</b>", x=px_x(cx), y=px_y(y0 - 3.5),
            xref="paper", yref="paper", showarrow=False, xanchor="center",
            yanchor="middle", font=dict(family="DejaVu Sans", size=4.5, color="#111")))
        if y1 + 9 < PAGE_H:
            annotations.append(dict(
                text="Training Epoch", x=px_x(cx), y=px_y(y1 + 9.5),
                xref="paper", yref="paper", showarrow=False, xanchor="center",
                yanchor="middle", font=dict(family="DejaVu Sans", size=5.5, color=TEXT)))
        annotations.append(dict(
            text="Observable value", x=px_x(x0 - 17), y=px_y((y0 + vy1) / 2),
            xref="paper", yref="paper", showarrow=False, textangle=-90,
            xanchor="center", yanchor="middle",
            font=dict(family="DejaVu Sans", size=5, color=TEXT)))
        if r == 3:
            annotations.append(dict(
                text=OFFSET_TEXT[c], x=px_x(x0 + 1), y=px_y(y0 - 3),
                xref="paper", yref="paper", showarrow=False, xanchor="left",
                yanchor="middle", font=dict(family="DejaVu Sans", size=4.5, color=TEXT)))
        if c == 0:
            top, bottom = KEY_SPAN[r]
            key_size = (bottom - top) / (len(LAYER_IDS) * 1.3)
            annotations.append(dict(
                text="<br>".join(LAYER_IDS), x=px_x(352), y=px_y(top),
                xref="paper", yref="paper", showarrow=False, xanchor="right",
                yanchor="top", align="right", borderpad=0.5, borderwidth=0.6,
                bordercolor="rgba(255,255,255,0.9)", bgcolor="rgba(234,234,242,0.8)",
                font=dict(family="DejaVu Sans", size=key_size, color="#444")))

# optimizer headers and observable row labels
for name, xc in zip(OPTIMIZERS, OPTIMIZER_X):
    annotations.append(dict(
        text=name, x=px_x(xc), y=px_y(30), xref="paper", yref="paper",
        showarrow=False, xanchor="center", yanchor="middle",
        font=dict(family="Lato", size=48, color="#000")))
for label, yc in zip(OBSERVABLES, OBSERVABLE_Y):
    annotations.append(dict(
        text=label, x=px_x(165), y=px_y(yc), xref="paper", yref="paper",
        showarrow=False, xanchor="center", yanchor="middle", align="center",
        font=dict(family="Lato", size=44, color="#000")))

fig.update_layout(
    width=PAGE_W, height=PAGE_H,
    margin=dict(l=0, r=0, t=0, b=0),
    paper_bgcolor="white", plot_bgcolor=BG,
    showlegend=False, annotations=annotations,
    **layout_axes)

fig.write_html("out.html", config={"displayModeBar": False})
